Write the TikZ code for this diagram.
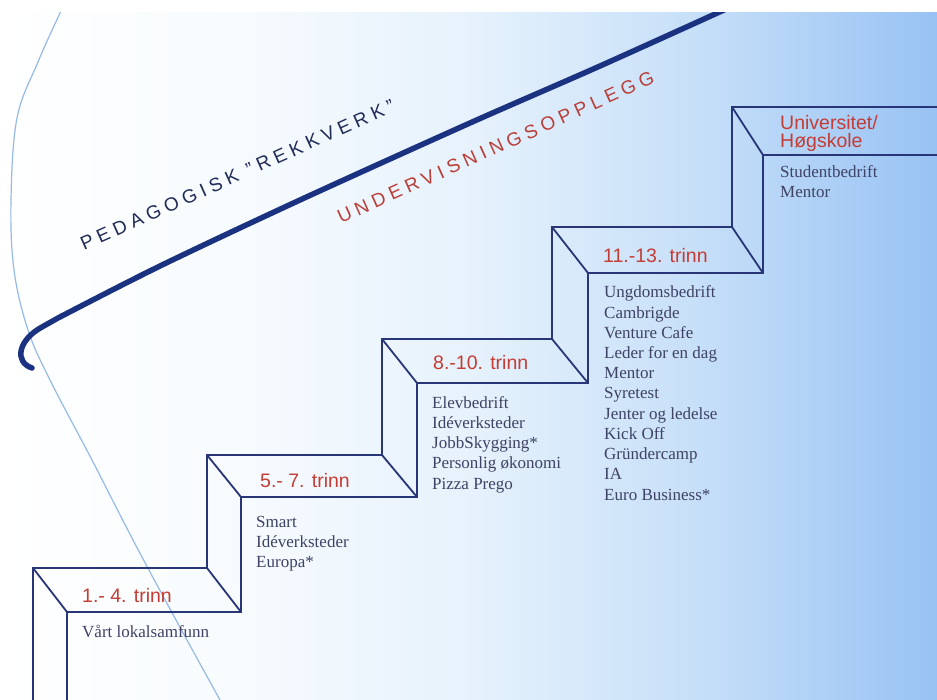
\documentclass[tikz,border=0pt]{standalone}
\usepackage{fontspec}
\setmainfont{Liberation Serif}
\newfontfamily\labelfont{Liberation Sans}
\newfontfamily\spacedfont[LetterSpace=26]{Liberation Sans}
\definecolor{stairblue}{RGB}{40,54,120}
\definecolor{railblue}{RGB}{26,50,128}
\definecolor{stepred}{RGB}{196,60,52}
\definecolor{ink}{RGB}{62,66,100}
\definecolor{arcblue}{RGB}{150,186,232}
\definecolor{headdark}{RGB}{32,44,86}
\definecolor{headred}{RGB}{186,62,56}
\definecolor{bgA}{RGB}{247,251,254}
\definecolor{bgB}{RGB}{229,241,252}
\definecolor{bgC}{RGB}{198,223,248}
\definecolor{bgD}{RGB}{152,194,244}
\pgfdeclarehorizontalshading{bgshade}{100bp}{color(0bp)=(white); color(25bp)=(white); color(38bp)=(bgA); color(50.6bp)=(bgB); color(62.4bp)=(bgC); color(75bp)=(bgD); color(100bp)=(bgD)}
\tikzset{
  stair/.style={draw=stairblue, line width=1.8pt, line join=miter},
  steplabel/.style={inner sep=0pt, anchor=base west, text=stepred, font=\labelfont\fontsize{19.5}{22}\selectfont},
  item/.style={inner sep=0pt, anchor=base west, text=ink, font=\fontsize{17}{20}\selectfont},
  headtitle/.style={inner sep=0pt, anchor=base west, rotate=24.2, font=\spacedfont\fontsize{19}{22}\selectfont}
}
\begin{document}
\begin{tikzpicture}[x=1pt,y=-1pt]
\useasboundingbox (0,0) rectangle (937,700);
\fill[white] (0,0) rectangle (937,700);
\shade[shading=bgshade] (0,13) rectangle (937,700);

% thin arc
\begin{scope}
\clip (0,13) rectangle (937,700);
\draw[arcblue, line width=1.2pt] plot[smooth, tension=0.6] coordinates {(66,0) (60,13) (38,62) (17,118) (11,200) (14,270) (28,330) (50,380) (92,460) (133,540) (176,620) (220,700)};
% handrail
\draw[railblue, line width=5.5pt, line cap=round, line join=round]
  plot[smooth, tension=0.5] coordinates {(746,0) (600,66) (470,123) (300,200) (160,266) (58,318)}
  -- (42,327) .. controls (18,340) and (14,362) .. (32,368);
\end{scope}

% staircase coordinates
\coordinate (b1) at (33,568);  \coordinate (f1) at (67,612);
\coordinate (b2) at (207,568); \coordinate (f2) at (241,612);
\coordinate (b3) at (207,455); \coordinate (f3) at (241,497);
\coordinate (b4) at (382,455); \coordinate (f4) at (417,497);
\coordinate (b5) at (382,339); \coordinate (f5) at (417,383);
\coordinate (b6) at (552,339); \coordinate (f6) at (588,383);
\coordinate (b7) at (552,227); \coordinate (f7) at (588,273);
\coordinate (b8) at (732,227); \coordinate (f8) at (763,273);
\coordinate (b9) at (732,107); \coordinate (f9) at (763,155);
\coordinate (b0) at (33,700);  \coordinate (f0) at (67,700);
\coordinate (bE) at (937,107); \coordinate (fE) at (937,155);

\draw[stair] (b0) -- (b1) -- (b2) -- (b3) -- (b4) -- (b5) -- (b6) -- (b7) -- (b8) -- (b9) -- (bE);
\draw[stair] (f0) -- (f1) -- (f2) -- (f3) -- (f4) -- (f5) -- (f6) -- (f7) -- (f8) -- (f9) -- (fE);
\foreach \i in {1,...,9} { \draw[stair] (b\i) -- (f\i); }

% step labels
\node[steplabel] (s1) at (82,602) {1.- 4. trinn};
\node[steplabel] (s2) at (260,487) {5.- 7. trinn};
\node[steplabel] (s3) at (433,370) {8.-10. trinn};
\node[steplabel] (s4) at (603,263) {11.-13. trinn};
\node[steplabel] (s5a) at (780,130) {Universitet/};
\node[steplabel] (s5b) at (780,148) {Høgskole};

% items
\node[item] (i1) at (82,637) {Vårt lokalsamfunn};
\foreach \t [count=\k from 0] in {Smart, Idéverksteder, Europa*}
  \node[item] (iia\k) at (256,527+20*\k) {\t};
\foreach \t [count=\k from 0] in {Elevbedrift, Idéverksteder, JobbSkygging*, Personlig økonomi, Pizza Prego}
  \node[item] (iib\k) at (432,408+20.3*\k) {\t};
\foreach \t [count=\k from 0] in {Ungdomsbedrift, Cambrigde, Venture Cafe, Leder for en dag, Mentor, Syretest, Jenter og ledelse, Kick Off, Gründercamp, IA, Euro Business*}
  \node[item] (iic\k) at (604,298+20.2*\k) {\t};
\node[item] (iid0) at (780,178) {Studentbedrift};
\node[item] (iid1) at (780,198) {Mentor};

% titles
\node[headtitle, text=headdark] (ped) at (84,251) {PEDAGOGISK ”REKKVERK”};
\node[headtitle, text=headred] (und) at (341,224) {UNDERVISNINGSOPPLEGG};
\end{tikzpicture}
\end{document}
